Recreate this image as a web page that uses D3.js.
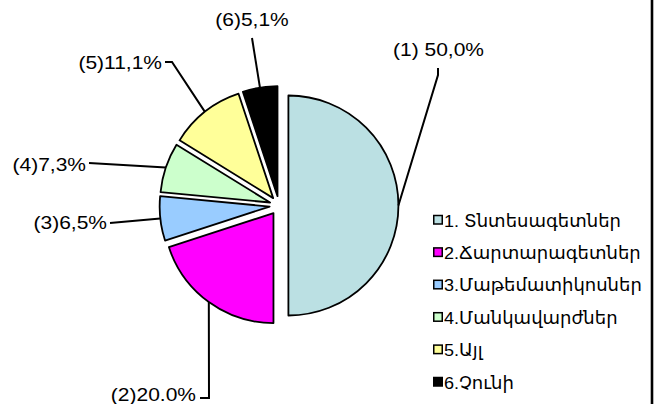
<!DOCTYPE html>
<html>
<head>
<meta charset="utf-8">
<script src="https://cdn.jsdelivr.net/npm/d3@7"></script>
<style>
  html, body { margin: 0; padding: 0; background: #fff; }
  svg { display: block; }
  text { font-family: "Liberation Sans", Arial, "DejaVu Sans", sans-serif; fill: #000; }
</style>
</head>
<body>
<div id="chart"></div>
<script>
// ---- data ----
const categories = ["1. Տնտեսագետներ", "2.Ճարտարագետներ", "3.Մաթեմատիկոսներ", "4.Մանկավարժներ", "5.Այլ", "6.Չունի"];
const values = [50.0, 20.0, 6.5, 7.3, 11.1, 5.1];
const labels = ["(1) 50,0%", "(2)20.0%", "(3)6,5%", "(4)7,3%", "(5)11,1%", "(6)5,1%"];
const colors = ["#BBE0E3", "#FF00FF", "#99CCFF", "#CCFFCC", "#FFFF99", "#000000"];

// ---- layout (label placement, not data) ----
const labelLayout = [
  { x: 438.5, y: 56, anchor: "middle", leader: [[438, 68], [438, 75]] },
  { x: 196, y: 401, anchor: "end", leader: [[200, 398], [209, 398]] },
  { x: 107, y: 229, anchor: "end", leader: [[110, 223]] },
  { x: 86, y: 171, anchor: "end", leader: [[89, 163]] },
  { x: 162, y: 69, anchor: "end", leader: [[165, 62], [172, 62]] },
  { x: 252, y: 26, anchor: "middle", leader: [[252, 38]] }
];

const W = 660, H = 404;
const cx = 279, cy = 205.5, R = 110, explode = 9.4;
const sx = 1.2;
const legendSx = 1.06;

const svg = d3.select("#chart").append("svg").attr("width", W).attr("height", H);

// right border
svg.append("line").attr("x1", 652).attr("x2", 652).attr("y1", 0).attr("y2", H)
  .attr("stroke", "#000").attr("stroke-width", 2.6);

const pie = d3.pie().sort(null).value(d => d).startAngle(0).endAngle(2 * Math.PI);
const arcs = pie(values);
const arc = d3.arc().innerRadius(0).outerRadius(R);

const g = svg.append("g").attr("transform", `translate(${cx},${cy})`);

function offset(a) {
  const m = (a.startAngle + a.endAngle) / 2;
  return [Math.sin(m) * explode, -Math.cos(m) * explode];
}

g.selectAll("path.slice").data(arcs).enter().append("path")
  .attr("class", "slice")
  .attr("d", arc)
  .attr("transform", d => { const o = offset(d); return `translate(${o[0]},${o[1]})`; })
  .attr("fill", (d, i) => colors[i])
  .attr("stroke", "#000")
  .attr("stroke-width", 1.8)
  .attr("stroke-linejoin", "round");

// leader lines
const line = d3.line();
arcs.forEach((a, i) => {
  const m = (a.startAngle + a.endAngle) / 2;
  const o = offset(a);
  const px = cx + o[0] + Math.sin(m) * R;
  const py = cy + o[1] - Math.cos(m) * R;
  const pts = labelLayout[i].leader.concat([[px, py]]);
  svg.append("path").attr("d", line(pts)).attr("fill", "none")
    .attr("stroke", "#000").attr("stroke-width", 2);
});

// labels
labels.forEach((t, i) => {
  const L = labelLayout[i];
  svg.append("g").attr("transform", `translate(${L.x},${L.y}) scale(${sx},1)`)
    .append("text").attr("text-anchor", L.anchor).attr("font-size", 17.5).text(t);
});

// legend
const lg = svg.append("g").attr("transform", "translate(433,220)");
const rowH = 32.4;
categories.forEach((c, i) => {
  const row = lg.append("g").attr("transform", `translate(0,${i * rowH})`);
  row.append("rect").attr("x", 0.75).attr("y", -4.5).attr("width", 8.5).attr("height", 8.5)
    .attr("fill", colors[i]).attr("stroke", "#000").attr("stroke-width", 1.5);
  row.append("g").attr("transform", `translate(11,6.5) scale(${legendSx},1)`)
    .append("text").attr("font-size", 17).text(c);
});
</script>
</body>
</html>
